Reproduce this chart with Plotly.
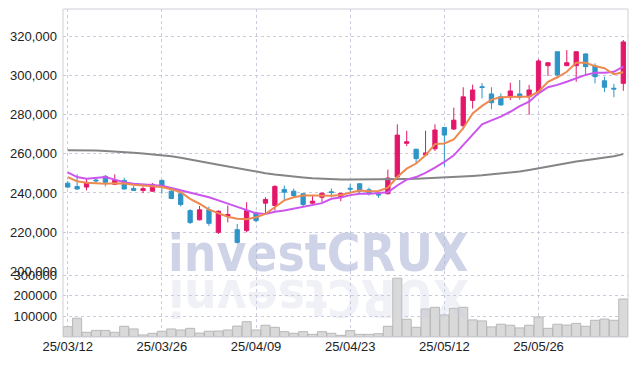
import plotly.graph_objects as go

dates = ["2025-03-12","2025-03-13","2025-03-14","2025-03-17","2025-03-18","2025-03-19","2025-03-20","2025-03-21",
         "2025-03-24","2025-03-25","2025-03-26","2025-03-27","2025-03-28","2025-03-31","2025-04-01","2025-04-02",
         "2025-04-03","2025-04-04","2025-04-07","2025-04-08","2025-04-09","2025-04-10","2025-04-11","2025-04-14",
         "2025-04-15","2025-04-16","2025-04-17","2025-04-18","2025-04-21","2025-04-22","2025-04-23","2025-04-24",
         "2025-04-25","2025-04-28","2025-04-29","2025-04-30","2025-05-02","2025-05-07","2025-05-08","2025-05-09",
         "2025-05-12","2025-05-13","2025-05-14","2025-05-15","2025-05-16","2025-05-19","2025-05-20","2025-05-21",
         "2025-05-22","2025-05-23","2025-05-26","2025-05-27","2025-05-28","2025-05-29","2025-05-30","2025-06-02",
         "2025-06-04","2025-06-05","2025-06-09","2025-06-10"]

tick_dates = ["2025-03-12","2025-03-26","2025-04-09","2025-04-23","2025-05-12","2025-05-26"]
tick_labels = ["25/03/12","25/03/26","25/04/09","25/04/23","25/05/12","25/05/26"]

opens = [245000,243300,243000,246600,248500,244400,246400,242300,241300,240900,
         246400,240900,239600,231000,226300,231400,219900,228200,221300,220800,
         229800,234800,233600,241800,240900,239600,234800,237800,240600,238200,
         242400,244700,241600,239400,239600,248100,265300,262300,259400,262500,
         273400,272600,274300,287200,294200,290500,289100,289100,290500,289100,
         291300,304900,312000,304900,304900,310900,304700,297200,293400,295900]
highs = [246000,249500,247300,247800,249100,249500,247800,243700,243300,245000,
         246800,242300,240200,231700,233400,233100,231000,233600,224200,235300,
         230500,237800,244000,243800,242200,240000,238700,240000,242200,239900,
         244400,244900,242700,240800,251900,275000,271700,262500,271700,275000,
         273600,283500,293900,295200,296000,293900,290800,296200,297600,295100,
         308200,306600,312200,312900,312200,311200,306100,299300,295600,318000]
lows = [242500,241600,241300,244700,243300,244000,241800,241000,239900,240600,
        239600,237000,233100,224200,226000,223200,219100,225000,214200,219900,
        225000,229300,231000,236500,237800,233100,234500,235300,237800,235800,
        239600,239600,238700,237500,239300,247500,263900,255300,259200,261400,
        253600,272100,272400,283000,288200,282700,284500,287400,287500,279800,
        291000,299600,298500,304700,296700,299600,295900,291500,288800,292100]
closes = [243000,242000,245400,246200,245400,246400,242000,241300,242200,244400,
          243000,237200,234100,224900,231400,224500,230700,229000,214800,231000,
          225900,236700,243300,240400,238700,234100,235800,239900,240200,239800,
          242000,240800,239600,239000,247600,269500,266100,257500,260400,272100,
          269500,277100,289000,292500,293800,286000,284900,292000,288800,292500,
          307300,306400,300200,306400,312000,304400,299300,293900,293000,317000]

ma_short = [248100,246000,245200,245000,244700,245000,244800,244200,243700,243300,
            243000,241900,240400,237000,234500,231500,229600,227900,226800,226600,
            227600,229300,232700,236200,237800,238700,238700,238700,238600,239000,
            240000,241300,240900,241000,242700,248100,252400,255000,259200,264900,
            265200,267300,273000,280500,284400,287600,288800,289100,289100,289100,
            291600,296700,299000,301800,306400,306400,304700,303600,300500,301500]
ma_mid = [250500,248100,247300,247800,248100,246800,245500,244700,244400,244200,
          243700,242500,241300,239900,238700,237800,236200,234500,232700,231000,
          229600,229300,230400,231000,231900,232700,233600,234800,237000,237700,
          238900,239600,239600,239900,240400,243800,246800,248100,250200,252900,
          255800,259200,264400,269500,275000,277000,278900,281400,284300,286500,
          290800,293900,295100,296700,298500,300200,301300,301300,301800,304400]
ma_long = [261800,261800,261700,261600,261400,261200,260900,260500,260100,259700,
           259200,258700,258000,257200,256300,255300,254400,253500,252600,251700,
           250900,250100,249400,248800,248300,247900,247500,247200,247000,246900,
           246800,246800,246800,246800,246900,247000,247100,247200,247400,247600,
           247900,248100,248400,248700,249000,249400,249800,250300,250900,251700,
           252600,253400,254300,255200,256000,256700,257400,258000,258700,259800]

volumes = [50000,91000,23000,32000,32000,23000,52000,39000,10000,18000,
           28000,39000,34000,42000,19000,28000,29000,34000,53000,74000,
           34000,57000,47000,26000,18000,26000,13000,26000,18000,8000,
           31000,13000,13000,16000,52000,285000,86000,47000,136000,144000,
           107000,139000,144000,83000,78000,49000,62000,57000,44000,57000,
           97000,42000,62000,58000,66000,52000,81000,87000,81000,184000]

price_ticks = [200000,220000,240000,260000,280000,300000,320000]
volume_ticks = [100000,200000,300000]

RED = "#E3176A"
BLUE = "#2E95C8"
GRID = "#c9cce0"
TICKFONT = "Liberation Sans, Arial, sans-serif"
WMFONT = "DejaVu Sans Condensed, DejaVu Sans, sans-serif"

fig = go.Figure()
fig.add_trace(go.Bar(x=dates, y=volumes, yaxis="y2",
                     marker=dict(color="#d9d9d9", line=dict(color="#b8b8b8", width=1)),
                     showlegend=False, hoverinfo="skip"))
fig.add_trace(go.Candlestick(x=dates, open=opens, high=highs, low=lows, close=closes,
                             increasing=dict(line=dict(color=RED, width=1), fillcolor=RED),
                             decreasing=dict(line=dict(color=BLUE, width=1), fillcolor=BLUE),
                             whiskerwidth=0, showlegend=False))
fig.add_trace(go.Scatter(x=dates, y=ma_long, mode="lines", line=dict(color="#858585", width=2), showlegend=False))
fig.add_trace(go.Scatter(x=dates, y=ma_mid, mode="lines", line=dict(color="#CC55EE", width=2), showlegend=False))
fig.add_trace(go.Scatter(x=dates, y=ma_short, mode="lines", line=dict(color="#EE8A50", width=2), showlegend=False))

fig.add_annotation(text="<b>investCRUX</b>", x=0.452, y=0.2546, xref="paper", yref="paper",
                   xanchor="center", yanchor="middle", showarrow=False,
                   font=dict(family=WMFONT, size=51, color="rgba(175,182,215,0.6)"))
fig.add_annotation(text="<b>XURCtsevni</b>", x=0.452, y=0.122, xref="paper", yref="paper",
                   xanchor="center", yanchor="middle", textangle=180, showarrow=False,
                   font=dict(family=WMFONT, size=51, color="rgba(205,210,230,0.3)"))

fig.add_shape(type="rect", xref="paper", yref="paper", x0=0, x1=1, y0=0, y1=1,
              line=dict(color="#d0d0d8", width=1), fillcolor="rgba(0,0,0,0)", layer="above")

fig.update_layout(
    width=637, height=366,
    margin=dict(l=63, r=9, t=9, b=29, pad=0),
    paper_bgcolor="white", plot_bgcolor="white",
    bargap=0.04, boxgap=0.35,
    font=dict(family=TICKFONT, size=13, color="#222222"),
    xaxis=dict(type="category", range=[-0.5, 59.5], anchor="y2", automargin=False,
               tickvals=tick_dates, ticktext=tick_labels,
               showgrid=True, gridcolor=GRID, griddash="dot", gridwidth=1,
               ticks="", showline=False, zeroline=False,
               rangeslider=dict(visible=False)),
    yaxis=dict(domain=[0.2, 1], range=[200000, 333800], tickvals=price_ticks, automargin=False,
               tickformat=",", showgrid=True, gridcolor=GRID, griddash="dot",
               zeroline=False, ticks="", ticklabelstandoff=5),
    yaxis2=dict(domain=[0, 0.2], range=[0, 318000], tickvals=volume_ticks, automargin=False,
                tickformat="d", showgrid=True, gridcolor=GRID, griddash="dot",
                zeroline=False, ticks="", ticklabelstandoff=5),
)

fig.write_html("out.html", config={"displayModeBar": False},
               post_script="document.body.style.margin='0';")
